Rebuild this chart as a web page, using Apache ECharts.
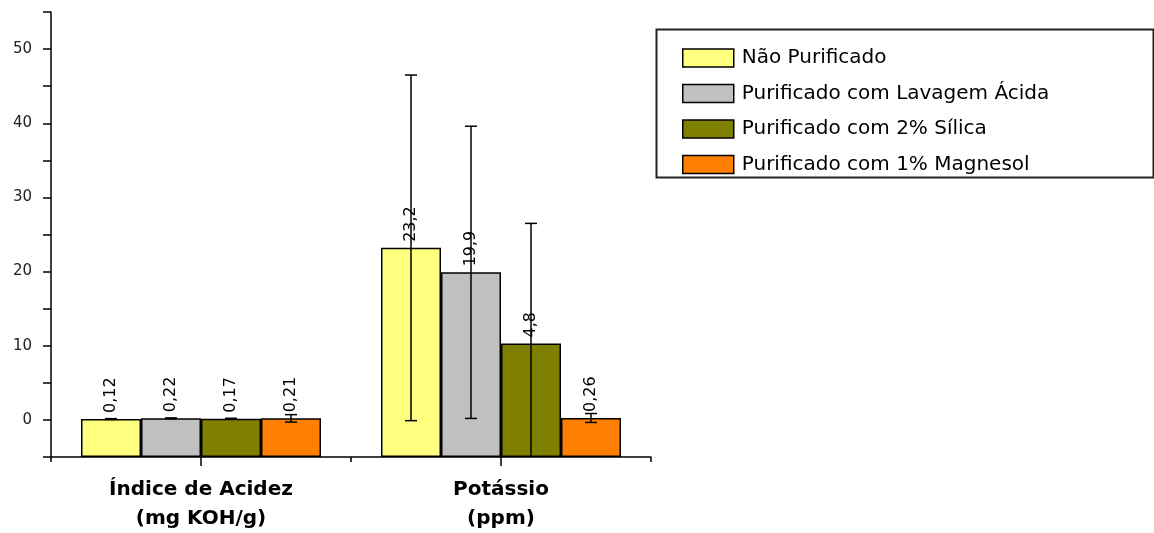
<!DOCTYPE html>
<html>
<head>
<meta charset="utf-8">
<script src="https://cdn.jsdelivr.net/npm/echarts@6/dist/echarts.min.js"></script>
<style>html,body{margin:0;padding:0;background:#fff}#c{width:1154px;height:533px}</style>
</head>
<body>
<div id="c"></div>
<script>
const categories = ['Índice de Acidez\n(mg KOH/g)', 'Potássio\n(ppm)'];
const seriesNames = ['Não Purificado', 'Purificado com Lavagem Ácida', 'Purificado com 2% Sílica', 'Purificado com 1% Magnesol'];
const naoPurificado = [0.12, 23.2];
const lavagemAcida = [0.22, 19.9];
const silica = [0.17, 10.3];
const magnesol = [0.21, 0.26];
const errNaoPurificado = [0.05, 23.3];
const errLavagemAcida = [0.05, 19.7];
const errSilica = [0.05, 16.2];
const errMagnesol = [0.5, 0.6];
const labelsNaoPurificado = ['0,12', '23,2'];
const labelsLavagemAcida = ['0,22', '19,9'];
const labelsSilica = ['0,17', '4,8'];
const labelsMagnesol = ['0,21', '0,26'];
const colors = ['#FFFF80', '#C0C0C0', '#808000', '#FF8000'];

const values = [naoPurificado, lavagemAcida, silica, magnesol];
const errors = [errNaoPurificado, errLavagemAcida, errSilica, errMagnesol];
const labels = [labelsNaoPurificado, labelsLavagemAcida, labelsSilica, labelsMagnesol];
const Y_MIN = -5;

const barSeries = values.map((vals, i) => ({
  name: seriesNames[i],
  type: 'bar',
  data: vals,
  barGap: '0%',
  barCategoryGap: '20%',
  itemStyle: { color: colors[i], borderColor: '#000', borderWidth: 1.5 },
  label: {
    show: true, position: 'top', rotate: 90, align: 'left', verticalAlign: 'middle',
    distance: 6, color: '#000', fontFamily: 'DejaVu Sans', fontSize: 16,
    formatter: p => labels[i][p.dataIndex]
  },
  z: 2
}));

const errSeries = values.map((vals, i) => ({
  type: 'custom',
  name: seriesNames[i] + ' erro',
  data: vals.map((v, k) => [k, v, errors[i][k]]),
  z: 5,
  clip: true,
  silent: true,
  renderItem: function (params, api) {
    const cat = api.value(0), v = api.value(1), e = api.value(2);
    const w = api.size([1, 0])[0];
    const bw = w * 0.8 / 4;
    const off = (i - 1.5) * bw;
    const t = api.coord([cat, v + e]);
    const b = api.coord([cat, Math.max(v - e, Y_MIN)]);
    const x = t[0] + off;
    const cap = 6;
    const st = { stroke: '#000', lineWidth: 1.5 };
    const children = [
      { type: 'line', shape: { x1: x, y1: t[1], x2: x, y2: b[1] }, style: st },
      { type: 'line', shape: { x1: x - cap, y1: t[1], x2: x + cap, y2: t[1] }, style: st }
    ];
    if (v - e > Y_MIN) {
      children.push({ type: 'line', shape: { x1: x - cap, y1: b[1], x2: x + cap, y2: b[1] }, style: st });
    }
    return { type: 'group', children };
  }
}));

const chart = echarts.init(document.getElementById('c'));
chart.setOption({
  animation: false,
  backgroundColor: '#fff',
  grid: { left: 51, right: 503, top: 12, bottom: 74, containLabel: false },
  legend: {
    data: seriesNames,
    orient: 'vertical',
    left: 682, top: 48,
    padding: 0,
    itemWidth: 51, itemHeight: 18, itemGap: 15.5,
    icon: 'rect',
    itemStyle: { borderColor: '#000', borderWidth: 1.5 },
    textStyle: { color: '#000', fontFamily: 'DejaVu Sans', fontSize: 20, lineHeight: 18, padding: [0, 0, 0, 3] }
  },
  graphic: [{
    type: 'rect', left: 654, top: 27,
    shape: { width: 497, height: 148 },
    style: { fill: 'none', stroke: '#222', lineWidth: 2 }
  }],
  xAxis: [{
    type: 'category',
    data: categories,
    axisLine: { onZero: false, lineStyle: { color: '#000', width: 1.5 } },
    axisTick: { show: true, length: 5, lineStyle: { color: '#000', width: 1.5 } },
    axisLabel: { margin: 18, color: '#000', fontFamily: 'DejaVu Sans', fontWeight: 'bold', fontSize: 20, lineHeight: 29 }
  }, {
    type: 'category',
    data: categories,
    position: 'bottom',
    offset: 0,
    axisLine: { show: false, onZero: false },
    axisTick: { show: true, alignWithLabel: true, length: 9, lineStyle: { color: '#000', width: 1.5 } },
    axisLabel: { show: false }
  }],
  yAxis: {
    type: 'value',
    min: Y_MIN, max: 55, interval: 5,
    startValue: Y_MIN,
    splitLine: { show: false },
    axisLine: { show: true, lineStyle: { color: '#000', width: 1.5 } },
    axisTick: { show: true, length: 8, lineStyle: { color: '#000', width: 1.5 } },
    axisLabel: {
      margin: 19, color: '#222', fontFamily: 'DejaVu Sans', fontSize: 15,
      formatter: v => (v >= 0 && v % 10 === 0) ? String(v) : ''
    }
  },
  series: [...barSeries, ...errSeries]
});
</script>
</body>
</html>
